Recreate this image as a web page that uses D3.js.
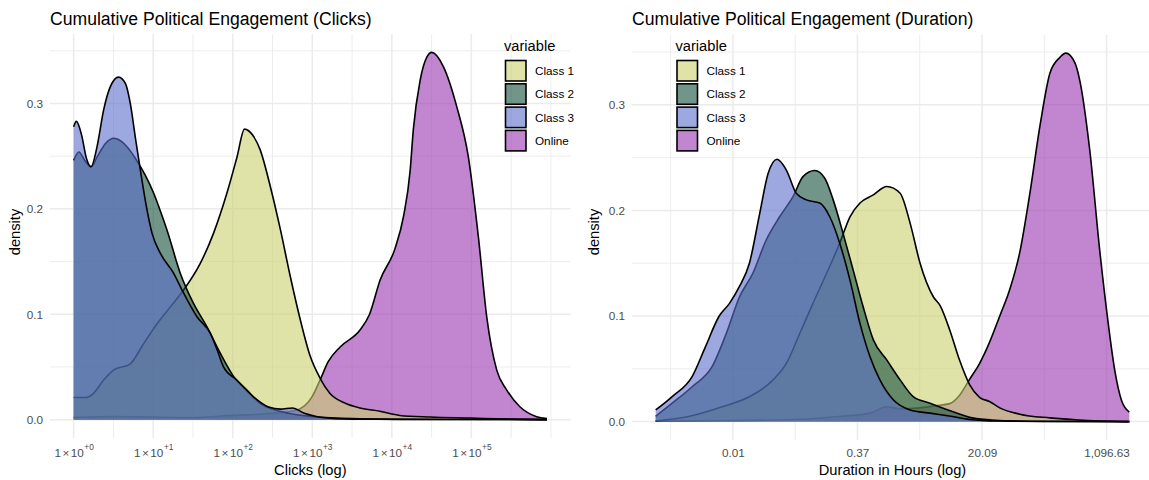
<!DOCTYPE html>
<html>
<head>
<meta charset="utf-8">
<script src="https://cdn.jsdelivr.net/npm/d3@7"></script>
<style>
  html, body { margin: 0; padding: 0; background: #fff; }
  svg { display: block; font-family: "Liberation Sans", Arial, Helvetica, sans-serif; }
</style>
</head>
<body>
<svg id="chart" width="1149" height="480"></svg>
<script>
// ---- series order, colours ----
const seriesNames = ["Class 1", "Class 2", "Class 3", "Online"];
const seriesColors = ["#cad06e", "#144e3c", "#5a6eca", "#9935b2"];
// layers are stacked with Online underneath the three classes
const drawOrder = ["Online", "Class 1", "Class 2", "Class 3"];

// ---- clicks: [log10(clicks), density] ----
const clicksClass1 = [[0,0.021],[0.15,0.021],[0.25,0.025],[0.377,0.0376],[0.5,0.047],[0.712,0.053],[0.879,0.072],[1.048,0.091],[1.215,0.107],[1.382,0.123],[1.59,0.148],[1.759,0.177],[1.927,0.215],[2.053,0.249],[2.148,0.2757],[2.25,0.27],[2.345,0.256],[2.47,0.222],[2.6,0.18],[2.72,0.137],[2.85,0.0945],[2.97,0.061],[3.1,0.039],[3.22,0.025],[3.41,0.0157],[3.6,0.011],[3.85,0.008],[4.1,0.004],[4.48,0.0025],[4.98,0.0015],[5.5,0.0005],[5.95,0]];
const clicksClass2 = [[0,0.246],[0.066,0.254],[0.14,0.246],[0.218,0.240],[0.3,0.25],[0.4,0.262],[0.503,0.267],[0.6,0.264],[0.67,0.259],[0.817,0.243],[0.9,0.232],[1.005,0.215],[1.09,0.198],[1.173,0.180],[1.34,0.139],[1.508,0.110],[1.676,0.088],[1.843,0.063],[2.01,0.041],[2.178,0.028],[2.345,0.0155],[2.5,0.010],[2.7,0.006],[3.0,0.003],[3.5,0.001],[4.5,0.0002],[5.95,0]];
const clicksClass3 = [[0,0.278],[0.034,0.283],[0.1,0.27],[0.16,0.248],[0.218,0.240],[0.294,0.259],[0.377,0.294],[0.461,0.316],[0.565,0.325],[0.65,0.319],[0.712,0.300],[0.775,0.268],[0.838,0.237],[0.922,0.199],[0.985,0.177],[1.089,0.158],[1.256,0.139],[1.362,0.123],[1.55,0.0976],[1.717,0.082],[1.8,0.067],[1.884,0.050],[2.05,0.0376],[2.26,0.0217],[2.45,0.012],[2.6,0.01],[2.75,0.011],[2.9,0.006],[3.05,0.003],[3.3,0.001],[3.8,0.0003],[5.95,0]];
const clicksOnline = [[0,0.002],[0.5,0.003],[1.0,0.0025],[1.5,0.002],[2.0,0.004],[2.5,0.006],[2.8,0.009],[3.0,0.022],[3.1,0.038],[3.2,0.055],[3.35,0.069],[3.6,0.085],[3.72,0.100],[3.853,0.1325],[4.041,0.1625],[4.146,0.1925],[4.23,0.236],[4.27,0.275],[4.356,0.322],[4.44,0.344],[4.502,0.3485],[4.648,0.335],[4.816,0.297],[4.962,0.2494],[5.088,0.1735],[5.193,0.0976],[5.319,0.047],[5.445,0.028],[5.61,0.0122],[5.82,0.0028],[5.95,0.001]];

// ---- duration: [ln(hours), density] ----
const durationClass1 = [[-7.48,0.0005],[-6.39,0.005],[-5.32,0.0142],[-4.46,0.0237],[-3.71,0.0395],[-3.28,0.0553],[-2.85,0.0837],[-2.43,0.112],[-1.99,0.1405],[-1.57,0.169],[-1.24,0.194],[-0.92,0.207],[-0.49,0.2147],[-0.06,0.2226],[0.37,0.2163],[0.69,0.188],[1.01,0.150],[1.44,0.118],[1.65,0.110],[1.96,0.087],[2.28,0.058],[2.6,0.035],[2.92,0.023],[3.24,0.019],[3.57,0.013],[4.21,0.007],[5.18,0.0035],[6.1,0.0015],[7.73,0]];
const durationClass2 = [[-7.48,0.005],[-6.95,0.0174],[-6.31,0.033],[-5.67,0.052],[-5.21,0.0837],[-4.79,0.118],[-4.36,0.1405],[-3.93,0.172],[-3.5,0.194],[-3.07,0.213],[-2.75,0.232],[-2.37,0.2378],[-2.05,0.2305],[-1.78,0.21],[-1.46,0.178],[-1.14,0.1437],[-0.82,0.109],[-0.49,0.0774],[-0.06,0.0584],[0.37,0.0395],[0.79,0.0237],[1.33,0.0174],[2.0,0.01],[2.6,0.004],[3.3,0.0015],[4.5,0.0003],[7.73,0]];
const durationClass3 = [[-7.48,0.011],[-6.95,0.0237],[-6.31,0.0426],[-5.88,0.071],[-5.45,0.0995],[-5.11,0.112],[-4.79,0.128],[-4.47,0.150],[-4.14,0.197],[-3.87,0.235],[-3.58,0.2485],[-3.28,0.238],[-2.96,0.216],[-2.64,0.21],[-2.21,0.207],[-1.89,0.194],[-1.57,0.169],[-1.24,0.134],[-0.92,0.093],[-0.6,0.0616],[-0.28,0.0395],[0.15,0.0206],[0.69,0.011],[1.33,0.008],[2.0,0.005],[2.6,0.002],[3.5,0.0005],[5,0.0001],[7.73,0]];
const durationOnline = [[-7.48,0.0005],[-5,0.001],[-3,0.002],[-1.5,0.005],[-0.6,0.008],[-0.06,0.014],[0.4,0.012],[1.0,0.013],[1.5,0.015],[1.96,0.017],[2.28,0.025],[2.6,0.04],[2.92,0.055],[3.24,0.075],[3.57,0.10],[3.89,0.125],[4.21,0.16],[4.53,0.215],[4.86,0.28],[5.18,0.33],[5.5,0.345],[5.69,0.349],[5.98,0.34],[6.14,0.323],[6.46,0.257],[6.78,0.162],[7.04,0.096],[7.26,0.049],[7.48,0.020],[7.73,0.009]];

// ---- axis breaks ----
const clicksBreaks = [0, 1, 2, 3, 4, 5];
const clicksMinorBreaks = [0.5, 1.5, 2.5, 3.5, 4.5, 5.5, 6];
const durationBreaks = [-5, -1, 3, 7];
const durationMinorBreaks = [-7, -3, 1, 5];
const densityBreaks = [0, 0.1, 0.2, 0.3];
const densityMinorBreaks = [0.05, 0.15, 0.25, 0.35];

const svg = d3.select("#chart");
const colorOf = d3.scaleOrdinal().domain(seriesNames).range(seriesColors);

const panels = [
  {
    title: "Cumulative Political Engagement (Clicks)",
    xTitle: "Clicks (log)",
    series: { "Class 1": clicksClass1, "Class 2": clicksClass2, "Class 3": clicksClass3, "Online": clicksOnline },
    breaks: clicksBreaks, minor: clicksMinorBreaks, sci: true,
    left: 50, right: 570.6, top: 34, bottom: 438,
    yTitleX: 15, legendX: 505
  },
  {
    title: "Cumulative Political Engagement (Duration)",
    xTitle: "Duration in Hours (log)",
    series: { "Class 1": durationClass1, "Class 2": durationClass2, "Class 3": durationClass3, "Online": durationOnline },
    breaks: durationBreaks, minor: durationMinorBreaks, sci: false,
    left: 632, right: 1153, top: 34.7, bottom: 440,
    yTitleX: 594, legendX: 676.5
  }
];

const durationFormat = d3.format(",.2f");

panels.forEach(p => {
  const g = svg.append("g");
  const allPts = drawOrder.flatMap(n => p.series[n]);
  const [x0, x1] = d3.extent(allPts, d => d[0]);
  const xPad = (x1 - x0) * 0.05;
  const x = d3.scaleLinear().domain([x0 - xPad, x1 + xPad]).range([p.left, p.right]);
  const yMax = d3.max(allPts, d => d[1]);
  const y = d3.scaleLinear().domain([-yMax * 0.05, yMax * 1.05]).range([p.bottom, p.top]);

  // grid
  const grid = g.append("g");
  const yMinor = densityMinorBreaks.filter(v => v <= y.domain()[1]);
  grid.selectAll("line.ymin").data(yMinor).join("line").attr("class", "ymin")
    .attr("x1", p.left).attr("x2", p.right).attr("y1", d => y(d)).attr("y2", d => y(d))
    .attr("stroke", "#ebebeb").attr("stroke-width", 0.9);
  grid.selectAll("line.xmin").data(p.minor).join("line").attr("class", "xmin")
    .attr("y1", p.top).attr("y2", p.bottom).attr("x1", d => x(d)).attr("x2", d => x(d))
    .attr("stroke", "#ebebeb").attr("stroke-width", 0.9);
  grid.selectAll("line.ymaj").data(densityBreaks).join("line").attr("class", "ymaj")
    .attr("x1", p.left).attr("x2", p.right).attr("y1", d => y(d)).attr("y2", d => y(d))
    .attr("stroke", "#ebebeb").attr("stroke-width", 1.5);
  grid.selectAll("line.xmaj").data(p.breaks).join("line").attr("class", "xmaj")
    .attr("y1", p.top).attr("y2", p.bottom).attr("x1", d => x(d)).attr("x2", d => x(d))
    .attr("stroke", "#ebebeb").attr("stroke-width", 1.5);

  // density layers
  const area = d3.area().x(d => x(d[0])).y0(y(0)).y1(d => y(d[1])).curve(d3.curveMonotoneX);
  const line = d3.line().x(d => x(d[0])).y(d => y(d[1])).curve(d3.curveMonotoneX);
  drawOrder.forEach(name => {
    const layer = g.append("g");
    layer.append("path").datum(p.series[name]).attr("d", area)
      .attr("fill", colorOf(name)).attr("fill-opacity", 0.6).attr("stroke", "none");
    layer.append("path").datum(p.series[name]).attr("d", line)
      .attr("fill", "none").attr("stroke", "#000").attr("stroke-width", 1.6)
      .attr("stroke-linejoin", "round");
  });

  // y axis
  const yAxis = g.append("g").attr("transform", `translate(${p.left},0)`)
    .call(d3.axisLeft(y).tickValues(densityBreaks).tickFormat(d3.format(".1f")).tickSize(0).tickPadding(7));
  yAxis.select(".domain").remove();
  yAxis.selectAll("text").attr("fill", "#4d4d4d").style("font-size", "11.73px")
    .style("font-family", "'Liberation Sans', Arial, sans-serif");

  // x axis
  const xAxis = g.append("g").attr("transform", `translate(0,${p.bottom})`)
    .call(d3.axisBottom(x).tickValues(p.breaks).tickSize(0)
      .tickFormat(p.sci ? () => "" : v => durationFormat(Math.exp(v))));
  xAxis.select(".domain").remove();
  xAxis.selectAll("text").attr("fill", "#4d4d4d").style("font-size", "11.73px")
    .style("font-family", "'Liberation Sans', Arial, sans-serif")
    .attr("dy", null).attr("y", 456.5 - p.bottom);
  if (p.sci) {
    xAxis.selectAll("text").each(function (v) {
      const t = d3.select(this);
      t.text(null);
      t.append("tspan").text("1");
      t.append("tspan").attr("dx", 1.5).text("\u00d7");
      t.append("tspan").attr("dx", 1.5).text("10");
      t.append("tspan").attr("dx", 0.5).attr("dy", -7).style("font-size", "8.4px").text("+" + v);
    });
  }

  // titles
  g.append("text").attr("x", p.left).attr("y", 25).text(p.title)
    .style("font-size", "17.6px").attr("fill", "#000");
  g.append("text").attr("x", (p.left + p.right) / 2).attr("y", 474.5).attr("text-anchor", "middle")
    .text(p.xTitle).style("font-size", "14.67px").attr("fill", "#000");
  g.append("text").attr("transform", `translate(${p.yTitleX + 5},232) rotate(-90)`)
    .attr("text-anchor", "middle").text("density").style("font-size", "14.67px").attr("fill", "#000");

  // legend
  const lg = g.append("g").attr("transform", `translate(${p.legendX},0)`);
  lg.append("text").attr("x", -1).attr("y", 50.7).text("variable").style("font-size", "14.67px").attr("fill", "#000");
  const items = lg.selectAll("g.item").data(seriesNames).join("g").attr("class", "item")
    .attr("transform", (d, i) => `translate(0,${60.5 + i * 23.3})`);
  items.append("rect").attr("x", 0.5).attr("y", 0).attr("width", 20.5).attr("height", 20.5)
    .attr("fill", d => colorOf(d)).attr("fill-opacity", 0.6)
    .attr("stroke", "#000").attr("stroke-width", 1.6);
  items.append("text").attr("x", 30).attr("y", 10.5).attr("dy", "0.35em").text(d => d)
    .style("font-size", "11.73px").attr("fill", "#000");
});
</script>
</body>
</html>
